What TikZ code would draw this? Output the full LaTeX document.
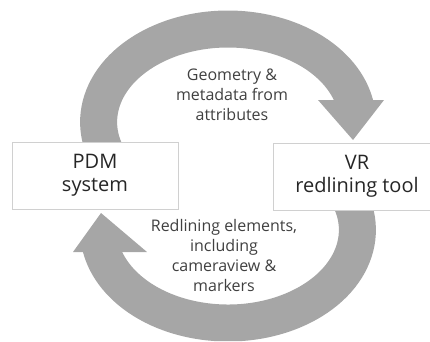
\documentclass[tikz,border=0pt]{standalone}
\usepackage{fontspec}
\setmainfont{Open Sans}
\definecolor{arrowgray}{HTML}{A6A6A6}
\definecolor{boxgray}{HTML}{D0D0D0}
\definecolor{boxtext}{HTML}{262626}
\definecolor{lbltext}{HTML}{404040}
\begin{document}
\begin{tikzpicture}[x=1pt,y=-1pt,
  band/.style={draw=arrowgray, line width=37pt, line cap=butt},
  head/.style={fill=arrowgray, draw=none},
  box/.style={draw=boxgray, line width=1pt, fill=white, minimum height=67pt,
    inner sep=0pt, align=center, text=boxtext, font=\fontsize{20}{23.5}\selectfont},
  lbl/.style={align=center, text=lbltext, font=\fontsize{16}{20}\selectfont, inner sep=0pt}]
\useasboundingbox (0,0) rectangle (430,341);
% top circular arrow
\begin{scope}
  \clip (0,0) rectangle (228,341) (228,0) rectangle (430,100);
  \draw[band] ([shift={(145.3:129.4 and 93)}]228,122) arc[start angle=145.3, end angle=360, x radius=129.4, y radius=93];
\end{scope}
\fill[head] (318,100) -- (384,100) -- (353,140) -- cycle;
% bottom circular arrow
\begin{scope}
  \clip (228,0) rectangle (430,341) (0,252) rectangle (228,341);
  \draw[band] ([shift={(-34.7:129.4 and 93)}]228,230) arc[start angle=-34.7, end angle=180, x radius=129.4, y radius=93];
\end{scope}
\fill[head] (73,252) -- (147,252) -- (101,213) -- cycle;
% boxes
\node[box, minimum width=166pt] (pdm) at (95,175.5) {PDM\\system};
\begin{scope}
  \clip (0,0) rectangle (430,341);
  \node[box, minimum width=168pt] (vr) at (357,176.5) {VR\\redlining tool};
\end{scope}
% labels
\node[lbl] (toplbl) at (232,95) {Geometry \&\\metadata from\\attributes};
\node[lbl] (botlbl) at (224,255) {Redlining elements,\\including\\cameraview \&\\markers};
\end{tikzpicture}
\end{document}
